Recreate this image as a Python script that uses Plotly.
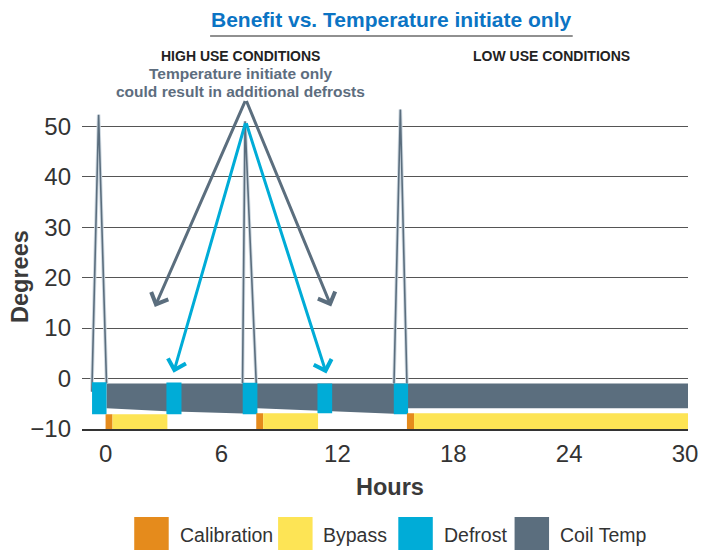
import plotly.graph_objects as go

# ---------------- data ----------------
hour_ticks = [0, 6, 12, 18, 24, 30]
deg_ticks = [-10, 0, 10, 20, 30, 40, 50]

# coil temperature band (top and bottom edge)
coil_x = [0.05, 3.15, 3.15, 7.1, 7.1, 7.86, 7.86, 14.92, 14.92, 15.66, 15.66, 30.2]
coil_bottom = [-5.9, -6.5, -6.5, -6.95, -6.95, -5.9, -5.9, -7.0, -7.0, -5.9, -5.9, -5.9]
coil_top = [-1.0, -1.0, -1.0, -1.0, -1.0, -1.0, -1.0, -1.0, -1.0, -1.0, -1.0, -1.0]

# coil temperature spikes during defrost
spike_x = [-0.71, -0.36, 0.05, None, 7.09, 7.22, 7.8, None, 14.93, 15.26, 15.6]
spike_y = [-2.6, 52.3, -1.0, None, -1.0, 51.0, -1.0, None, -1.0, 53.3, -1.0]

# defrost periods
defrost_start = [-0.7, 3.15, 7.1, 10.97, 14.92]
defrost_end = [0.05, 3.93, 7.86, 11.73, 15.66]
defrost_low = [-7.1, -7.1, -7.1, -6.9, -7.1]
defrost_high = [-0.75, -0.8, -0.85, -1.0, -1.0]

# calibration periods
calib_start = [0.0, 7.8, 15.6]
calib_end = [0.36, 8.16, 15.97]
calib_high = [-7.1, -6.9, -6.9]

# bypass periods
bypass_start = [0.36, 8.16, 15.97]
bypass_end = [3.2, 11.0, 30.2]
bypass_high = [-7.1, -6.9, -6.9]
base_level = -10

legend_names = ["Calibration", "Bypass", "Defrost", "Coil Temp"]

C_CAL = "#e58b1c"
C_BYP = "#fde455"
C_DEF = "#00acd7"
C_COIL = "#5b6e7e"
legend_colors = [C_CAL, C_BYP, C_DEF, C_COIL]

# ---------------- figure ----------------
W, H = 710, 550
ML, MR, MT, MB = 82, 13, 96, 121
PW, PH = W - ML - MR, H - MT - MB


def px_x(px):
    return (px - ML) / PW


def px_y(py):
    return (H - MB - py) / PH


fig = go.Figure()

# coil band
fig.add_trace(go.Scatter(x=coil_x, y=coil_bottom, mode="lines",
                         line=dict(width=0, color=C_COIL), hoverinfo="skip",
                         showlegend=False))
fig.add_trace(go.Scatter(x=coil_x, y=coil_top, mode="lines", fill="tonexty",
                         fillcolor=C_COIL, line=dict(width=0, color=C_COIL),
                         name="Coil Temp", showlegend=False))

# spikes: light halo + dark line
fig.add_trace(go.Scatter(x=spike_x, y=spike_y, mode="lines",
                         line=dict(width=3.5, color="#cfd9e1"), showlegend=False,
                         hoverinfo="skip"))
fig.add_trace(go.Scatter(x=spike_x, y=spike_y, mode="lines",
                         line=dict(width=1.6, color=C_COIL), showlegend=False))


def rects(starts, ends, lows, highs, color, name):
    xs, ys = [], []
    for s, e, lo, hi in zip(starts, ends, lows, highs):
        xs += [s, e, e, s, s, None]
        ys += [lo, lo, hi, hi, lo, None]
    fig.add_trace(go.Scatter(x=xs, y=ys, mode="lines", fill="toself",
                             fillcolor=color, line=dict(width=0, color=color),
                             name=name, showlegend=False))


rects(defrost_start, defrost_end, defrost_low, defrost_high, C_DEF, "Defrost")
rects(calib_start, calib_end, [base_level] * len(calib_start), calib_high, C_CAL, "Calibration")
rects(bypass_start, bypass_end, [base_level] * len(bypass_start), bypass_high, C_BYP, "Bypass")

annotations = []
shapes = []

# arrows
arrow_sets = [
    (7.26, 55.3, [(2.55, 14.2), (11.68, 14.3)], C_COIL),
    (7.26, 50.9, [(3.52, 1.15), (11.43, 1.0)], C_DEF),
]
for ax0, ay0, heads, col in arrow_sets:
    for hx, hy in heads:
        annotations.append(dict(
            x=hx, y=hy, xref="x", yref="y", ax=ax0, ay=ay0, axref="x", ayref="y",
            text="", showarrow=True, arrowhead=4, arrowsize=1.2, arrowwidth=3,
            arrowcolor=col, standoff=0, startstandoff=0))

FONT = "Liberation Sans"


def label(px, py, text, size, color, **kw):
    d = dict(x=px_x(px), y=px_y(py), xref="paper", yref="paper", text=text,
             showarrow=False, xanchor="center", yanchor="middle",
             font=dict(size=size, color=color, family=FONT))
    d.update(kw)
    annotations.append(d)


# title + underline
label(396, 19, "<b>Benefit vs. Temperature initiate only</b>", 21, "#0b74c4")
shapes.append(dict(type="line", xref="paper", yref="paper", x0=px_x(212), x1=px_x(580),
                   y0=px_y(36), y1=px_y(36), line=dict(color="#6b6b6b", width=1.5)))

label(243, 56, "<b>HIGH USE CONDITIONS</b>", 14, "#222222")
label(558, 56, "<b>LOW USE CONDITIONS</b>", 14, "#222222")
label(243, 74, "<b>Temperature initiate only</b>", 15.5, "#5d6d7e")
label(243, 91, "<b>could result in additional defrosts</b>", 15.5, "#5d6d7e")

# axis titles
label(395, 487, "<b>Hours</b>", 23.5, "#3a3a3a")
label(19, 276, "<b>Degrees</b>", 23.5, "#3a3a3a", textangle=-90)

# custom legend
legend_x_px = [135, 281, 403, 521]
SQ = 35
for name, col, lx in zip(legend_names, legend_colors, legend_x_px):
    shapes.append(dict(type="rect", xref="paper", yref="paper",
                       x0=px_x(lx), x1=px_x(lx + SQ), y0=px_y(551), y1=px_y(517),
                       fillcolor=col, line=dict(width=0)))
    label(lx + SQ + 9, 535, name, 19.5, "#333333", xanchor="left")

fig.update_layout(
    width=W, height=H,
    margin=dict(l=ML, r=MR, t=MT, b=MB, pad=0),
    paper_bgcolor="white", plot_bgcolor="white",
    font=dict(family=FONT, color="#333333"),
    showlegend=False,
    annotations=annotations,
    shapes=shapes,
    xaxis=dict(range=[-1.22, 30.15], tickvals=hour_ticks, showgrid=False,
               zeroline=False, showline=True, linecolor="#333333", linewidth=1.5,
               ticks="", tickfont=dict(size=24, color="#333333"),
               ticklabelstandoff=2, fixedrange=True),
    yaxis=dict(range=[-10, 56], tickvals=deg_ticks, showgrid=True,
               gridcolor="#555555", gridwidth=1, zeroline=False, showline=False,
               ticks="", tickfont=dict(size=24, color="#333333"),
               ticklabelstandoff=10, fixedrange=True),
)

fig.write_html(
    "out.html",
    post_script=("document.documentElement.style.margin='0';"
                 "document.documentElement.style.overflow='hidden';"
                 "document.body.style.margin='0';"
                 "document.body.style.overflow='hidden';"),
    config={"displayModeBar": False},
)
